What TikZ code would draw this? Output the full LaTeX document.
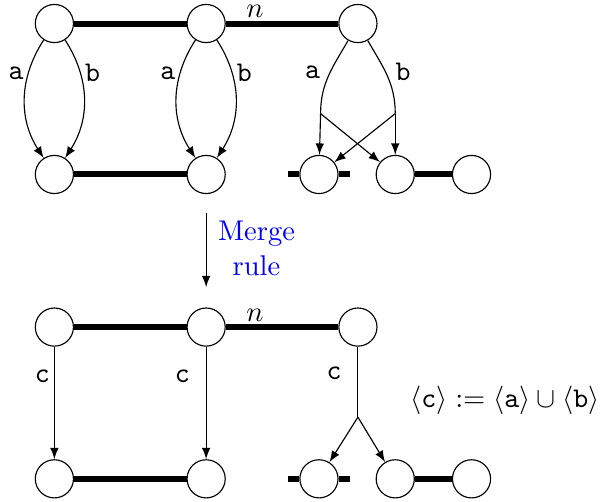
\documentclass[tikz,border=0pt]{standalone}
\begin{document}
\begin{tikzpicture}[vert/.style={draw,circle,minimum size=0.47cm,inner sep=0pt},
  heavy/.style={line width=2.1pt}, >=latex]
  \useasboundingbox (0,0) rectangle (7.43,6.18);
  % before the merge
  \node[vert] (a1) at (0.67,5.89) {};
  \node[vert] (a2) at (2.54,5.89) {};
  \node[vert] (a3) at (4.41,5.89) {};
  \node[vert] (b1) at (0.67,4.03) {};
  \node[vert] (b2) at (2.54,4.03) {};
  \node[vert] (b3) at (3.93,4.03) {};
  \node[vert] (b4) at (4.87,4.03) {};
  \node[vert] (b5) at (5.81,4.03) {};
  \draw[heavy] (a1) -- (a2);
  \draw[heavy] (a2) -- node[above=1pt,pos=0.26,inner sep=0pt] {$n$} (a3);
  \draw[heavy] (b1) -- (b2);
  \draw[heavy] (b3.west) -- ++(-0.14,0);
  \draw[heavy] (b3.east) -- ++(0.14,0);
  \draw[heavy] (b4) -- (b5);
  \draw[->] (a1) to[bend right=33] node[left,pos=0.28,inner sep=1.5pt] {\texttt{a}} (b1);
  \draw[->] (a1) to[bend left=33] node[right,pos=0.28,inner sep=1.5pt] {\texttt{b}} (b1);
  \draw[->] (a2) to[bend right=33] node[left,pos=0.28,inner sep=1.5pt] {\texttt{a}} (b2);
  \draw[->] (a2) to[bend left=33] node[right,pos=0.28,inner sep=1.5pt] {\texttt{b}} (b2);
  \coordinate (sa) at (3.95,4.78);
  \coordinate (sb) at (4.87,4.78);
  \draw (a3) to[out=240,in=90] node[left,pos=0.45] {\texttt{a}} (sa);
  \draw (a3) to[out=300,in=90] node[right,pos=0.45] {\texttt{b}} (sb);
  \draw[->] (sa) -- (b3);
  \draw[->] (sa) -- (b4);
  \draw[->] (sb) -- (b4);
  \draw[->] (sb) -- (b3);
  % the rule
  \coordinate (m1) at (2.54,3.55);
  \coordinate (m2) at (2.54,2.64);
  \draw[->] (m1) -- (m2);
  \node[blue,align=center] (rule) at (3.16,3.12) {Merge\\rule};
  % after the merge
  \node[vert] (c1) at (0.67,2.15) {};
  \node[vert] (c2) at (2.54,2.15) {};
  \node[vert] (c3) at (4.41,2.15) {};
  \node[vert] (d1) at (0.67,0.28) {};
  \node[vert] (d2) at (2.54,0.28) {};
  \node[vert] (d3) at (3.93,0.28) {};
  \node[vert] (d4) at (4.87,0.28) {};
  \node[vert] (d5) at (5.81,0.28) {};
  \draw[heavy] (c1) -- (c2);
  \draw[heavy] (c2) -- node[above=1pt,pos=0.26,inner sep=0pt] {$n$} (c3);
  \draw[heavy] (d1) -- (d2);
  \draw[heavy] (d3.west) -- ++(-0.14,0);
  \draw[heavy] (d3.east) -- ++(0.14,0);
  \draw[heavy] (d4) -- (d5);
  \draw[->] (c1) -- node[left=1.4pt,pos=0.26,inner sep=0pt] {\texttt{c}} (d1);
  \draw[->] (c2) -- node[left=5.5pt,pos=0.26,inner sep=0pt] {\texttt{c}} (d2);
  \coordinate (sc) at (4.41,1.04);
  \draw (c3) -- node[left=5.5pt,pos=0.38,inner sep=0pt] {\texttt{c}} (sc);
  \draw[->] (sc) -- (d3);
  \draw[->] (sc) -- (d4);
  \node (def) at (6.22,1.25) {$\langle\texttt{c}\rangle := \langle\texttt{a}\rangle \cup \langle\texttt{b}\rangle$};
\end{tikzpicture}
\end{document}
